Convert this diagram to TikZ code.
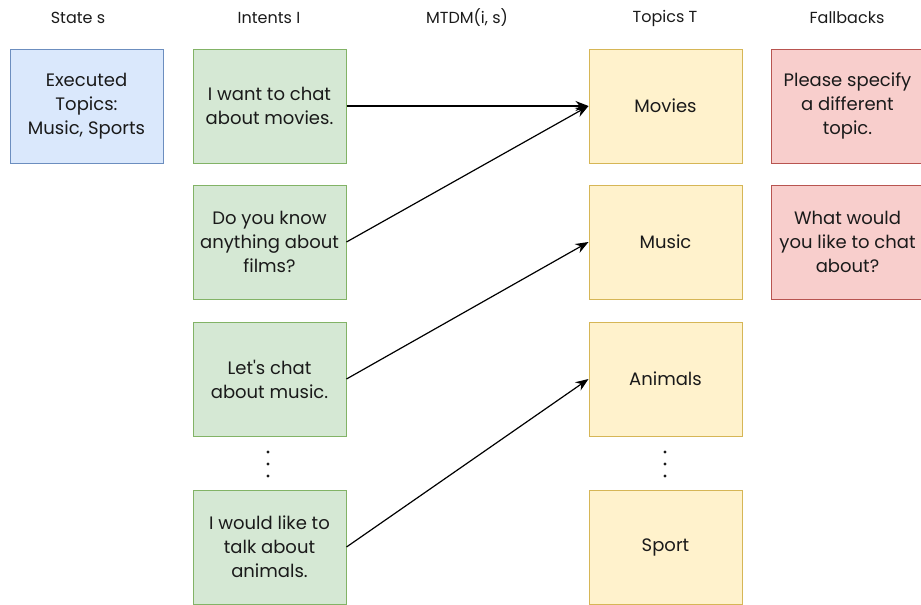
\documentclass[tikz,border=0pt]{standalone}
\usepackage{fontspec}
\setmainfont{Poppins}
\usetikzlibrary{arrows.meta}
\definecolor{bluefill}{HTML}{DAE8FC}\definecolor{bluedraw}{HTML}{6C8EBF}
\definecolor{greenfill}{HTML}{D5E8D4}\definecolor{greendraw}{HTML}{82B366}
\definecolor{yellowfill}{HTML}{FFF2CC}\definecolor{yellowdraw}{HTML}{D6B656}
\definecolor{redfill}{HTML}{F8CECC}\definecolor{reddraw}{HTML}{B85450}
\definecolor{txt}{HTML}{1A1A1A}
\tikzset{
  box/.style={draw, line width=1pt, minimum width=153pt, minimum height=114pt,
    inner sep=0pt, align=center, text=txt, font=\fontsize{18}{24}\selectfont},
  statebox/.style={box, fill=bluefill, draw=bluedraw},
  intentbox/.style={box, fill=greenfill, draw=greendraw},
  topicbox/.style={box, fill=yellowfill, draw=yellowdraw},
  fallbox/.style={box, fill=redfill, draw=reddraw},
  header/.style={text=txt, font=\fontsize{16}{18}\selectfont},
  dotmark/.style={fill=txt, circle, inner sep=0pt, minimum size=3.2pt},
  link/.style={-{Stealth[length=13pt,width=10pt]}, line width=1.2pt, black}
}
\begin{document}
\begin{tikzpicture}[x=1pt, y=-1pt]
\useasboundingbox (0,0) rectangle (921,605);
% column headers
\node[header] (hs) at (78,18) {State s};
\node[header] (hi) at (269,18) {Intents I};
\node[header] (hm) at (467,18) {MTDM(i, s)};
\node[header] (ht) at (665,18) {Topics T};
\node[header] (hf) at (847,18) {Fallbacks};
% state
\node[statebox] (s) at (86.5,106) {Executed\\Topics:\\Music, Sports};
% intents
\node[intentbox] (i1) at (269.5,106) {I want to chat\\about movies.};
\node[intentbox] (i2) at (269.5,242) {Do you know\\anything about\\films?};
\node[intentbox] (i3) at (269.5,379) {Let\textquotesingle s chat\\about music.};
\node[intentbox] (i4) at (269.5,547) {I would like to\\talk about\\animals.};
% vertical ellipses between the last two rows
\foreach \y [count=\k] in {452,464,476} {
  \node[dotmark] (di\k) at (268,\y) {};
  \node[dotmark] (dt\k) at (665,\y) {};
}
% topics
\node[topicbox] (t1) at (665.5,106) {Movies};
\node[topicbox] (t2) at (665.5,242) {Music};
\node[topicbox] (t3) at (665.5,379) {Animals};
\node[topicbox] (t4) at (665.5,547) {Sport};
% fallbacks
\node[fallbox] (f1) at (847.5,106) {Please specify\\a different\\topic.};
\node[fallbox] (f2) at (847.5,242) {What would\\you like to chat\\about?};
% mappings
\draw[link] (i1.east) -- (t1.west);
\draw[link] (i2.east) -- (t1.west);
\draw[link] (i3.east) -- (t2.west);
\draw[link] (i4.east) -- (t3.west);
\end{tikzpicture}
\end{document}
